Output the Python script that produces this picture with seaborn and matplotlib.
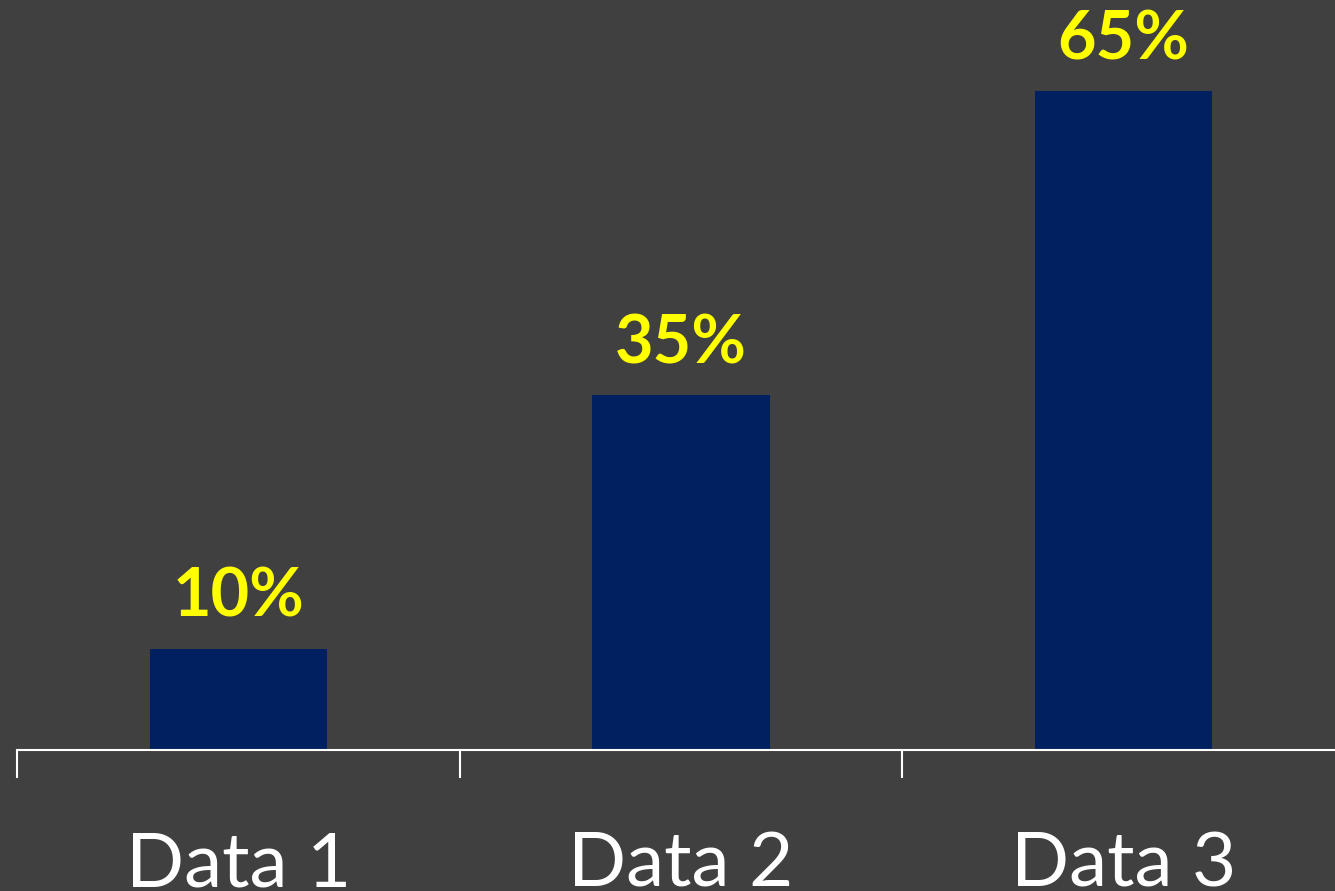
import matplotlib
matplotlib.use("Agg")
import matplotlib.pyplot as plt
import seaborn as sns
import pandas as pd

categories = ["Data 1", "Data 2", "Data 3"]
values = [10, 35, 65]
value_labels = ["10%", "35%", "65%"]

BG = "#404040"
BAR = "#002060"
LABEL = "#FFFF00"

sns.set_theme(style="white")
plt.rcParams["font.family"] = ["Lato", "DejaVu Sans"]

fig = plt.figure(figsize=(13.35, 8.91), dpi=100, facecolor=BG)
ax = fig.add_axes([17 / 1335, 141 / 891, 1328 / 1335, 750 / 891])
ax.set_facecolor(BG)

df = pd.DataFrame({"cat": categories, "val": values})
sns.barplot(data=df, x="cat", y="val", color=BAR, width=0.4, saturation=1,
            linewidth=0, edgecolor=BAR, ax=ax)

ax.set_xlim(-0.5, 2.5)
ax.set_ylim(0, 74)
ax.set_xlabel("")
ax.set_ylabel("")
ax.set_yticks([])

for s in ["top", "right", "left"]:
    ax.spines[s].set_visible(False)
ax.spines["bottom"].set_color("white")
ax.spines["bottom"].set_linewidth(1.5)

ax.set_xticks([0, 1, 2])
ax.set_xticklabels(categories, fontsize=55, color="white")
ax.tick_params(axis="x", which="major", bottom=True, length=0, pad=58)
ax.set_xticks([-0.5, 0.5, 1.5, 2.5], minor=True)
ax.tick_params(axis="x", which="minor", bottom=True, length=20, width=1.5,
               color="white", direction="out")

for i, (v, lab) in enumerate(zip(values, value_labels)):
    ax.annotate(lab, xy=(i, v), xytext=(0, 23), textcoords="offset points",
                ha="center", va="baseline", fontsize=48, fontweight="bold",
                color=LABEL)

fig.savefig("out.png", dpi=100, facecolor=BG)
